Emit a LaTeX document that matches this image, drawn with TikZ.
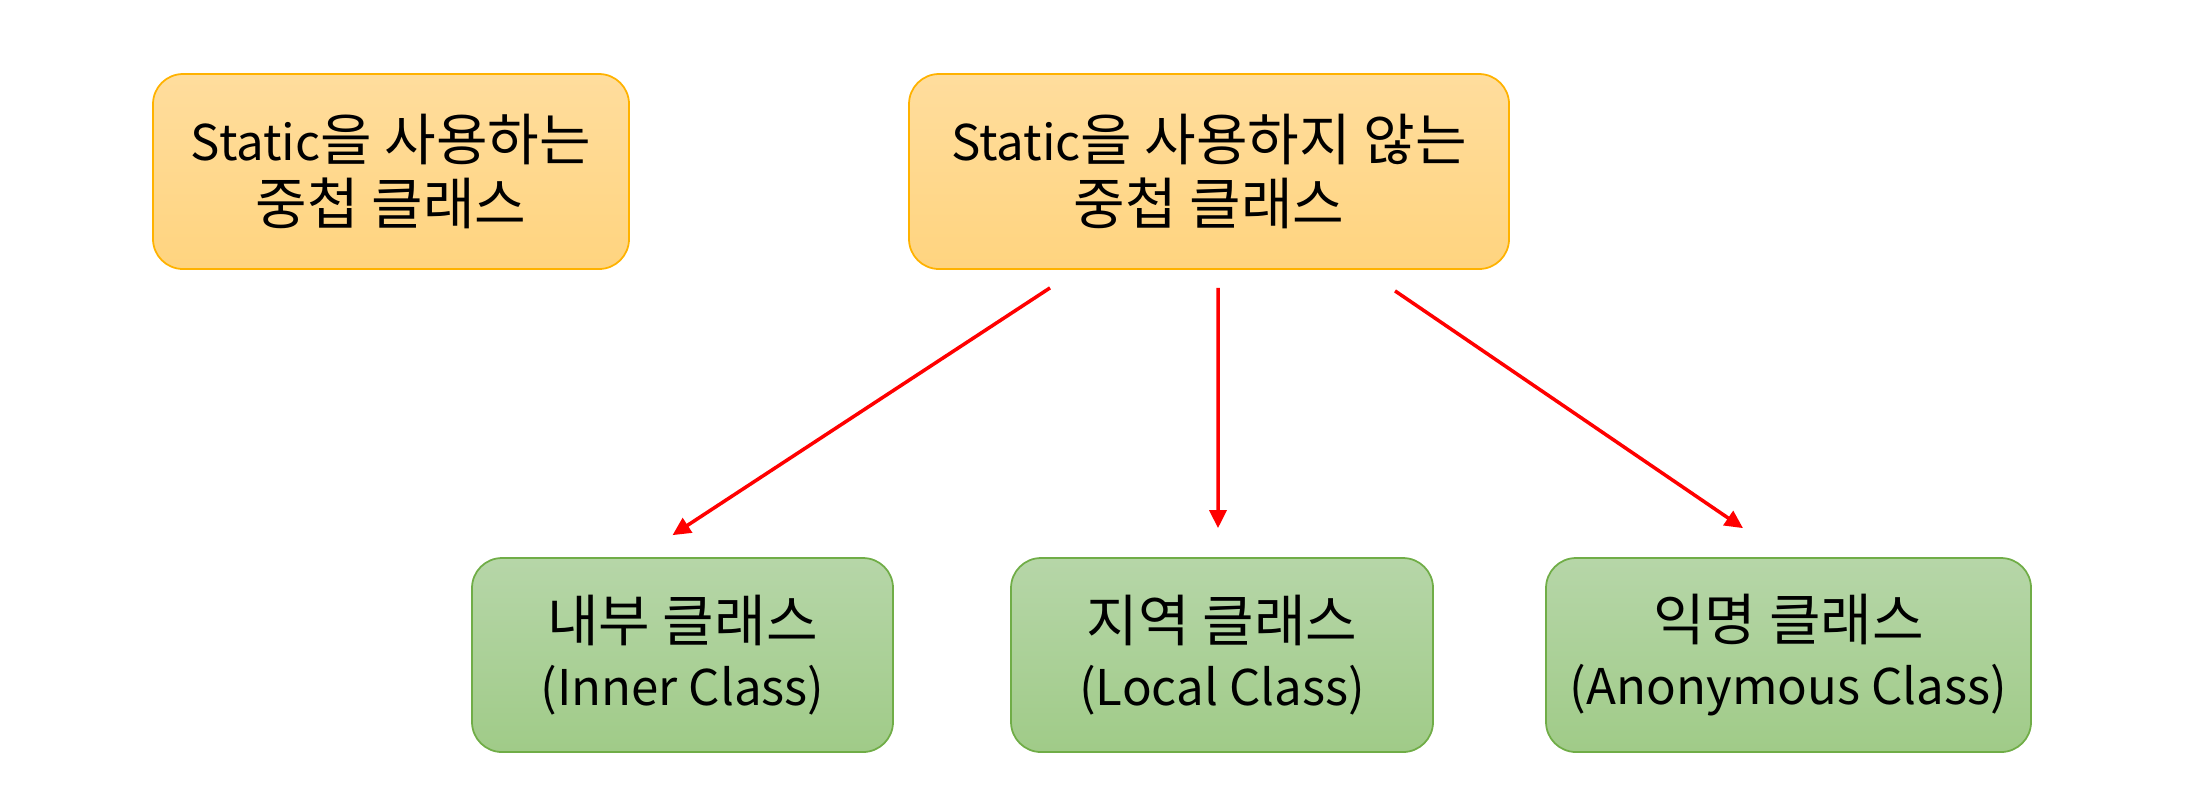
\documentclass[tikz,border=0pt]{standalone}
\usepackage{fontspec}
\setmainfont{Noto Sans CJK KR}
\newfontfamily\hangulfont{Noto Sans CJK KR}[Scale=1.14]
\newcommand{\kr}[1]{{\hangulfont #1}}
\usetikzlibrary{positioning, arrows.meta}

\tikzset{
  staticbox/.style={draw=orange!60!yellow, line width=0.5pt, rounded corners=0.3cm,
    top color=orangetop, bottom color=orangebot, minimum height=1.95cm,
    align=center, font=\fontsize{14}{18}\selectfont},
  kindbox/.style={draw=greenedge, line width=0.5pt, rounded corners=0.3cm,
    top color=greentop, bottom color=greenbot, minimum height=1.94cm,
    align=center, font=\fontsize{14}{18}\selectfont},
  redarrow/.style={draw=red, line width=1pt, -{Triangle[length=0.18cm, width=0.17cm]}}
}
\definecolor{orangetop}{HTML}{FFDD9D}
\definecolor{orangebot}{HTML}{FFD47F}
\definecolor{greentop}{HTML}{B6D6A8}
\definecolor{greenbot}{HTML}{A0CB88}
\definecolor{greenedge}{HTML}{70AD47}

\begin{document}
\begin{tikzpicture}
      \useasboundingbox (0,0) rectangle (21.86,-7.9);
      \node[staticbox, minimum width=4.76cm] (withstatic) at (3.91,-1.715) {Static\kr{을 사용하는}\\\kr{중첩 클래스}};
      \node[staticbox, minimum width=6.00cm] (nostatic) at (12.09,-1.715) {Static\kr{을 사용하지 않는}\\\kr{중첩 클래스}};
      \node[kindbox, minimum width=4.21cm] (inner) at (6.825,-6.55) {\kr{내부 클래스}\\(Inner Class)};
      \node[kindbox, minimum width=4.22cm] (local) at (12.22,-6.55) {\kr{지역 클래스}\\(Local Class)};
      \node[kindbox, minimum width=4.85cm] (anon) at (17.885,-6.55) {\kr{익명 클래스}\\(Anonymous Class)};
      \draw[redarrow] ([xshift=-1.59cm,yshift=-0.18cm]nostatic.south) -- ([xshift=-0.1cm,yshift=0.22cm]inner.north);
      \draw[redarrow] ([xshift=0.09cm,yshift=-0.18cm]nostatic.south) -- ([xshift=-0.04cm,yshift=0.29cm]local.north);
      \draw[redarrow] ([xshift=1.86cm,yshift=-0.21cm]nostatic.south) -- ([xshift=-0.455cm,yshift=0.29cm]anon.north);
    \end{tikzpicture}
\end{document}
